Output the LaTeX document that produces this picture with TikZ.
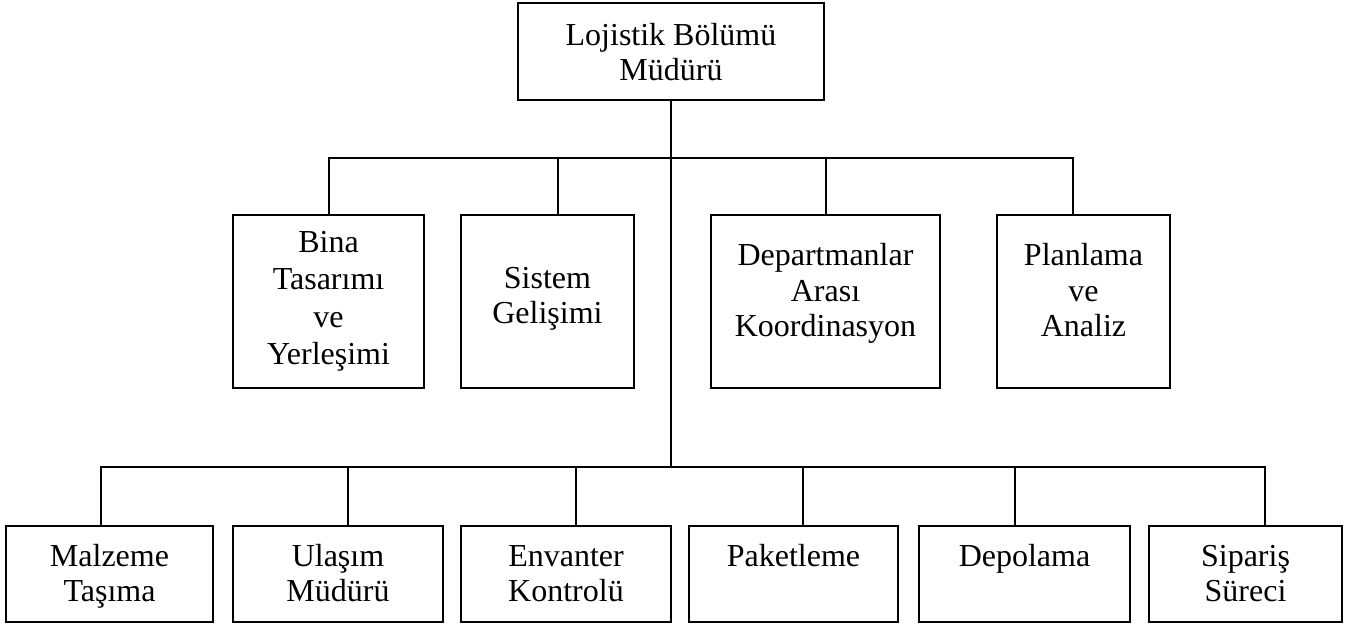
\documentclass[tikz,border=0pt]{standalone}
\usepackage{fontspec}
\setmainfont{Liberation Serif}
% invisible rules that fix the height of a first line / depth of a last line
\newcommand\lineheight[1]{\rule{0pt}{#1pt}}
\newcommand\linedepth[1]{\rule[-#1pt]{0pt}{#1pt}}
\begin{document}
\begin{tikzpicture}[x=1pt,y=-1pt,
  unit/.style={draw, line width=2pt, align=center, inner sep=0pt,
    font=\fontsize{32}{35.5}\selectfont},
  link/.style={line width=2pt}]
\useasboundingbox (0,0) rectangle (1347,629);

% head of the department
\node[unit, minimum width=306pt, minimum height=97pt] (head) at (671,51.5)
  {\lineheight{33.8}Lojistik Bölümü\\Müdürü\linedepth{10.8}};

% staff units
\node[unit, minimum width=191pt, minimum height=173pt] (bina) at (328.5,301.5)
  {\lineheight{25.2}Bina\\[2pt]Tasarımı\\[2pt]ve\\[2pt]Yerleşimi\linedepth{11.7}};
\node[unit, minimum width=173pt, minimum height=173pt] (sistem) at (547.5,301.5)
  {\lineheight{25.2}Sistem\\Gelişimi\linedepth{16.2}};
\node[unit, minimum width=229pt, minimum height=173pt] (dept) at (825.5,301.5)
  {\lineheight{25.2}Departmanlar\\Arası\\Koordinasyon\linedepth{26.2}};
\node[unit, minimum width=173pt, minimum height=173pt] (plan) at (1083.5,301.5)
  {\lineheight{25.2}Planlama\\ve\\Analiz\linedepth{26.2}};

% operating units
\node[unit, minimum width=207pt, minimum height=96pt] (malzeme) at (109.5,574)
  {\lineheight{30.8}Malzeme\\Taşıma\linedepth{10.8}};
\node[unit, minimum width=210pt, minimum height=96pt] (ulasim) at (338,574)
  {\lineheight{30.8}Ulaşım\\Müdürü\linedepth{10.8}};
\node[unit, minimum width=210pt, minimum height=96pt] (envanter) at (566,574)
  {\lineheight{30.8}Envanter\\Kontrolü\linedepth{10.8}};
\node[unit, minimum width=209pt, minimum height=96pt] (paket) at (793.5,574)
  {\lineheight{30.8}Paketleme\\\linedepth{10.8}};
\node[unit, minimum width=211pt, minimum height=96pt] (depo) at (1024.5,574)
  {\lineheight{30.8}Depolama\\\linedepth{10.8}};
\node[unit, minimum width=193pt, minimum height=96pt] (siparis) at (1245.5,574)
  {\lineheight{30.8}Sipariş\\Süreci\linedepth{10.8}};

% bus levels
\coordinate (midbus) at (0,158);
\coordinate (lowbus) at (0,467);

% trunk
\draw[link] (head.south) -- (head.south |- lowbus);

% upper bus and its drops
\draw[link] (bina.north) -- (bina.north |- midbus)
  -- ([xshift=-10.5pt]plan.north |- midbus) -- ([xshift=-10.5pt]plan.north);
\draw[link] ([xshift=10.5pt]sistem.north) -- ([xshift=10.5pt]sistem.north |- midbus);
\draw[link] (dept.north) -- (dept.north |- midbus);

% lower bus and its drops
\draw[link] ([xshift=-8.5pt]malzeme.north) -- ([xshift=-8.5pt]malzeme.north |- lowbus)
  -- ([xshift=19.5pt]siparis.north |- lowbus) -- ([xshift=19.5pt]siparis.north);
\draw[link] ([xshift=10pt]ulasim.north) -- ([xshift=10pt]ulasim.north |- lowbus);
\draw[link] ([xshift=10pt]envanter.north) -- ([xshift=10pt]envanter.north |- lowbus);
\draw[link] ([xshift=9.5pt]paket.north) -- ([xshift=9.5pt]paket.north |- lowbus);
\draw[link] ([xshift=-9.5pt]depo.north) -- ([xshift=-9.5pt]depo.north |- lowbus);
\end{tikzpicture}
\end{document}
